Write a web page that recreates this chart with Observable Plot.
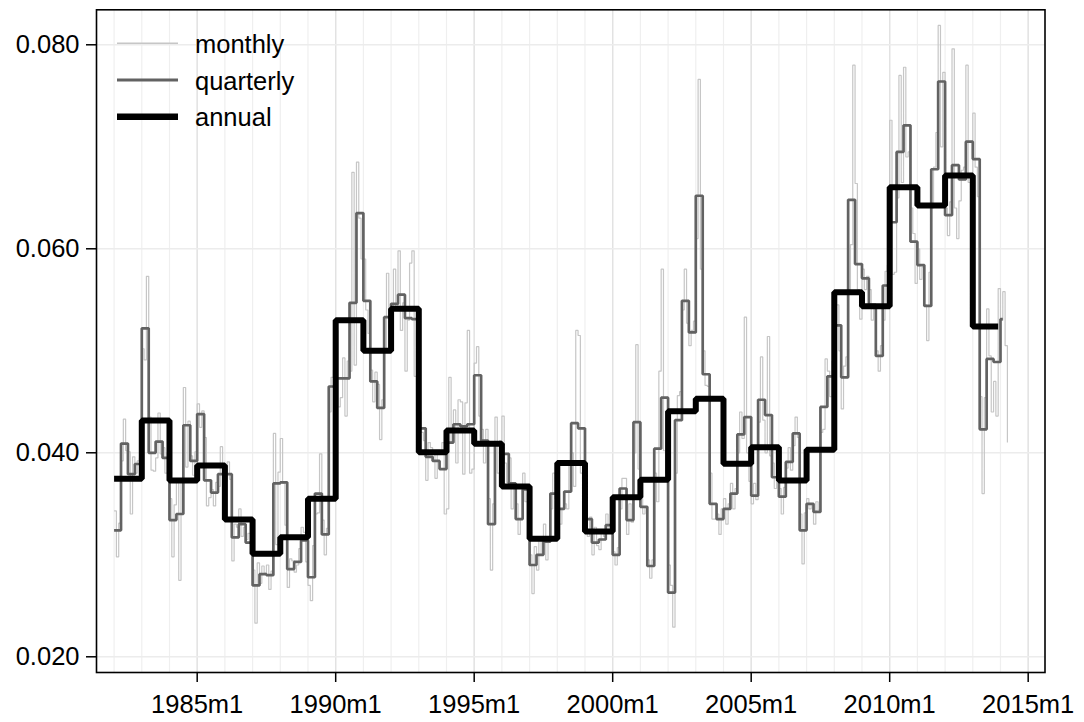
<!DOCTYPE html>
<html>
<head>
<meta charset="utf-8">
<script src="https://cdn.jsdelivr.net/npm/d3@7"></script>
<script src="https://cdn.jsdelivr.net/npm/@observablehq/plot@0.6"></script>
<style>
  html, body { margin: 0; padding: 0; background: #ffffff; }
  #chart { position: relative; width: 1084px; height: 722px; }
  #legend { position: absolute; left: 0; top: 0; pointer-events: none; }
</style>
</head>
<body>
<div id="chart"></div>
<script>
// Monthly series, 1982m1 onward (one row per year)
const monthlyStart = "1982m1";
const monthly = [
  0.0343, 0.0298, 0.0331, 0.0392, 0.0433, 0.0402, 0.0401, 0.0340, 0.0396, 0.0380, 0.0392, 0.0395,
  0.0502, 0.0491, 0.0573, 0.0435, 0.0383, 0.0382, 0.0395, 0.0439, 0.0399, 0.0405, 0.0380, 0.0400,
  0.0355, 0.0298, 0.0349, 0.0372, 0.0275, 0.0373, 0.0464, 0.0386, 0.0431, 0.0397, 0.0378, 0.0401,
  0.0448, 0.0425, 0.0441, 0.0415, 0.0348, 0.0356, 0.0364, 0.0348, 0.0371, 0.0367, 0.0406, 0.0364,
  0.0372, 0.0391, 0.0374, 0.0294, 0.0330, 0.0327, 0.0345, 0.0318, 0.0327, 0.0315, 0.0321, 0.0300,
  0.0285, 0.0233, 0.0292, 0.0272, 0.0289, 0.0282, 0.0290, 0.0266, 0.0284, 0.0419, 0.0310, 0.0381,
  0.0414, 0.0370, 0.0329, 0.0268, 0.0296, 0.0294, 0.0283, 0.0290, 0.0306, 0.0327, 0.0322, 0.0293,
  0.0270, 0.0255, 0.0309, 0.0340, 0.0341, 0.0399, 0.0334, 0.0300, 0.0326, 0.0440, 0.0474, 0.0481,
  0.0520, 0.0445, 0.0454, 0.0493, 0.0436, 0.0490, 0.0480, 0.0675, 0.0486, 0.0685, 0.0630, 0.0590,
  0.0590, 0.0540, 0.0517, 0.0481, 0.0450, 0.0479, 0.0467, 0.0413, 0.0452, 0.0501, 0.0576, 0.0522,
  0.0518, 0.0580, 0.0540, 0.0598, 0.0520, 0.0547, 0.0480, 0.0530, 0.0586, 0.0598, 0.0475, 0.0520,
  0.0440, 0.0420, 0.0412, 0.0373, 0.0410, 0.0405, 0.0400, 0.0375, 0.0401, 0.0402, 0.0410, 0.0340,
  0.0345, 0.0474, 0.0411, 0.0442, 0.0390, 0.0452, 0.0450, 0.0379, 0.0449, 0.0520, 0.0380, 0.0384,
  0.0488, 0.0504, 0.0436, 0.0423, 0.0390, 0.0423, 0.0355, 0.0285, 0.0350, 0.0435, 0.0380, 0.0412,
  0.0436, 0.0390, 0.0371, 0.0395, 0.0345, 0.0370, 0.0350, 0.0320, 0.0335, 0.0380, 0.0352, 0.0360,
  0.0300, 0.0262, 0.0308, 0.0285, 0.0315, 0.0300, 0.0330, 0.0295, 0.0314, 0.0345, 0.0380, 0.0355,
  0.0360, 0.0330, 0.0345, 0.0350, 0.0345, 0.0391, 0.0400, 0.0367, 0.0520, 0.0515, 0.0380, 0.0377,
  0.0350, 0.0318, 0.0337, 0.0300, 0.0327, 0.0309, 0.0305, 0.0322, 0.0318, 0.0340, 0.0322, 0.0325,
  0.0303, 0.0290, 0.0307, 0.0345, 0.0375, 0.0375, 0.0320, 0.0350, 0.0332, 0.0400, 0.0506, 0.0384,
  0.0355, 0.0340, 0.0346, 0.0295, 0.0277, 0.0295, 0.0380, 0.0352, 0.0480, 0.0580, 0.0402, 0.0380,
  0.0290, 0.0270, 0.0229, 0.0380, 0.0456, 0.0460, 0.0540, 0.0580, 0.0527, 0.0505, 0.0520, 0.0529,
  0.0610, 0.0766, 0.0580, 0.0500, 0.0466, 0.0465, 0.0380, 0.0335, 0.0335, 0.0340, 0.0320, 0.0345,
  0.0355, 0.0330, 0.0350, 0.0370, 0.0345, 0.0365, 0.0400, 0.0440, 0.0414, 0.0533, 0.0400, 0.0372,
  0.0350, 0.0370, 0.0354, 0.0430, 0.0494, 0.0432, 0.0400, 0.0514, 0.0397, 0.0390, 0.0365, 0.0373,
  0.0365, 0.0340, 0.0366, 0.0385, 0.0405, 0.0383, 0.0407, 0.0435, 0.0415, 0.0340, 0.0291, 0.0341,
  0.0355, 0.0345, 0.0350, 0.0330, 0.0352, 0.0344, 0.0420, 0.0423, 0.0492, 0.0480, 0.0455, 0.0490,
  0.0530, 0.0545, 0.0500, 0.0443, 0.0485, 0.0494, 0.0560, 0.0604, 0.0780, 0.0664, 0.0560, 0.0531,
  0.0580, 0.0560, 0.0573, 0.0560, 0.0530, 0.0545, 0.0500, 0.0480, 0.0505, 0.0530, 0.0578, 0.0584,
  0.0726, 0.0575, 0.0577, 0.0650, 0.0770, 0.0665, 0.0778, 0.0690, 0.0695, 0.0640, 0.0615, 0.0566,
  0.0600, 0.0570, 0.0582, 0.0545, 0.0510, 0.0577, 0.0640, 0.0680, 0.0714, 0.0819, 0.0700, 0.0773,
  0.0640, 0.0613, 0.0646, 0.0796, 0.0640, 0.0610, 0.0647, 0.0677, 0.0680, 0.0780, 0.0665, 0.0670,
  0.0733, 0.0680, 0.0651, 0.0455, 0.0360, 0.0454, 0.0541, 0.0495, 0.0440, 0.0470, 0.0436, 0.0561,
  0.0530, 0.0558, 0.0505, 0.0410
];

// Quarterly averages, 1982q1 onward
const quarterlyStart = "1982m1";
const quarterlyEnd = "2014m2";
const quarterly = [
  0.0324, 0.0409, 0.0379, 0.0389,
  0.0522, 0.0400, 0.0411, 0.0395,
  0.0334, 0.0340, 0.0427, 0.0392,
  0.0438, 0.0373, 0.0361, 0.0379,
  0.0379, 0.0317, 0.0330, 0.0312,
  0.0270, 0.0281, 0.0280, 0.0370,
  0.0371, 0.0286, 0.0293, 0.0314,
  0.0278, 0.0360, 0.0320, 0.0465,
  0.0473, 0.0473, 0.0547, 0.0635,
  0.0549, 0.0470, 0.0444, 0.0533,
  0.0546, 0.0555, 0.0532, 0.0531,
  0.0424, 0.0396, 0.0392, 0.0384,
  0.0410, 0.0428, 0.0426, 0.0428,
  0.0476, 0.0412, 0.0330, 0.0409,
  0.0399, 0.0370, 0.0335, 0.0364,
  0.0290, 0.0300, 0.0313, 0.0360,
  0.0345, 0.0362, 0.0429, 0.0424,
  0.0335, 0.0312, 0.0315, 0.0329,
  0.0300, 0.0365, 0.0334, 0.0430,
  0.0347, 0.0289, 0.0404, 0.0454,
  0.0263, 0.0432, 0.0549, 0.0518,
  0.0652, 0.0477, 0.0350, 0.0335,
  0.0345, 0.0360, 0.0418, 0.0435,
  0.0358, 0.0452, 0.0437, 0.0376,
  0.0357, 0.0391, 0.0419, 0.0324,
  0.0350, 0.0342, 0.0445, 0.0475,
  0.0525, 0.0474, 0.0648, 0.0585,
  0.0571, 0.0545, 0.0495, 0.0564,
  0.0626, 0.0695, 0.0721, 0.0607,
  0.0584, 0.0544, 0.0678, 0.0764,
  0.0633, 0.0682, 0.0668, 0.0705,
  0.0688, 0.0423, 0.0492, 0.0489,
  0.0531
];

// Annual averages, 1982 to 2013
const annualStart = "1982m1";
const annualEnd = "2013m12";
const annual = [
  0.03745, 0.04317, 0.03728, 0.03876, 0.03346, 0.03010, 0.03173, 0.03549,
  0.05300, 0.05000, 0.05412, 0.04006, 0.04219, 0.04088, 0.03670, 0.03157,
  0.03900, 0.03228, 0.03565, 0.03735, 0.04408, 0.04530, 0.03892, 0.04055,
  0.03728, 0.04030, 0.05575, 0.05437, 0.06604, 0.06425, 0.06719, 0.05238
];

// Axes
const xTickYears = [1985, 1990, 1995, 2000, 2005, 2010, 2015];
const gridYears = d3.range(1982, 2016);
const yTicks = [0.020, 0.040, 0.060, 0.080];
const xDomain = [1981.365, 2015.607];
const yDomain = [0.01846, 0.08343];

// Legend entries
const legendLabels = ["monthly", "quarterly", "annual"];
const seriesStroke = ["#c6c6c6", "#626262", "#000000"];
const seriesWidth = [1.2, 2.7, 6];

// "YYYYmM" -> decimal year
const toYear = s => { const [y, m] = s.split("m").map(Number); return y + (m - 1) / 12; };

const mStart = toYear(monthlyStart);
const monthlyPts = monthly.map((v, i) => ({t: mStart + i / 12, v}));

const qStart = toYear(quarterlyStart);
const quarterlyPts = quarterly.map((v, i) => ({t: qStart + i / 4, v}));
quarterlyPts.push({t: toYear(quarterlyEnd), v: quarterly[quarterly.length - 1]});

const aStart = toYear(annualStart);
const annualPts = annual.map((v, i) => ({t: aStart + i, v}));
annualPts.push({t: toYear(annualEnd), v: annual[annual.length - 1]});

const lineOpts = (k) => ({
  x: "t", y: "v", curve: "step-after",
  stroke: seriesStroke[k], strokeWidth: seriesWidth[k],
  strokeLinejoin: "miter", strokeLinecap: "butt"
});

const chart = Plot.plot({
  width: 1084,
  height: 722,
  marginLeft: 96,
  marginRight: 39.5,
  marginTop: 9.3,
  marginBottom: 50,
  style: {
    fontFamily: "'Liberation Sans', Arial, Helvetica, sans-serif",
    fontSize: "25px",
    background: "#ffffff",
    color: "#000000"
  },
  x: {domain: xDomain, label: null},
  y: {domain: yDomain, label: null},
  marks: [
    Plot.ruleX(gridYears, {stroke: "#efefef", strokeWidth: 1.2}),
    Plot.ruleX(xTickYears, {stroke: "#e2e2e2", strokeWidth: 1.4}),
    Plot.ruleY(yTicks, {stroke: "#ececec", strokeWidth: 1.4}),
    Plot.lineY(monthlyPts, lineOpts(0)),
    Plot.lineY(quarterlyPts, lineOpts(1)),
    Plot.lineY(annualPts, lineOpts(2)),
    Plot.frame({stroke: "#000000", strokeWidth: 1.6}),
    Plot.axisX(xTickYears, {
      tickFormat: d => `${d}m1`, tickSize: 10, tickPadding: 12,
      strokeWidth: 1.5, fontSize: 25.5
    }),
    Plot.axisY(yTicks, {
      tickFormat: d3.format(".3f"), tickSize: 10, tickPadding: 7,
      strokeWidth: 1.5, fontSize: 25.5
    })
  ]
});

const host = document.getElementById("chart");
host.appendChild(chart);

// Legend in the top-left corner of the plotting area
const legend = d3.select(host).append("svg")
  .attr("id", "legend")
  .attr("width", 1084).attr("height", 722);
const rowY = [43.3, 80, 116.7];
legendLabels.forEach((label, k) => {
  legend.append("line")
    .attr("x1", 117).attr("x2", 178)
    .attr("y1", rowY[k]).attr("y2", rowY[k])
    .attr("stroke", seriesStroke[k])
    .attr("stroke-width", k === 2 ? 6.5 : seriesWidth[k] + 0.3);
  legend.append("text")
    .attr("x", 195).attr("y", rowY[k] + 9.5)
    .attr("font-family", "'Liberation Sans', Arial, Helvetica, sans-serif")
    .attr("font-size", 25.5)
    .attr("fill", "#000000")
    .text(label);
});
</script>
</body>
</html>
